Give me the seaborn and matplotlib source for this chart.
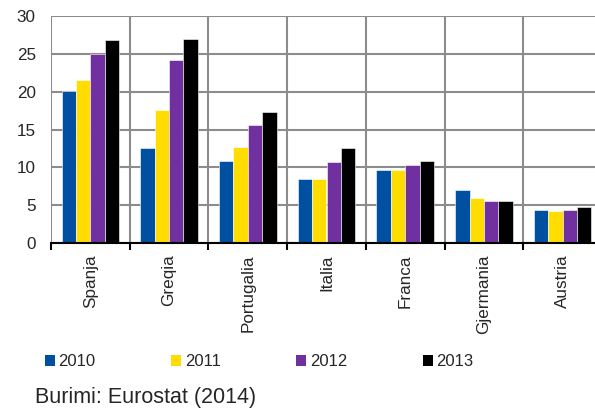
import matplotlib
matplotlib.use("Agg")
import matplotlib.pyplot as plt
import seaborn as sns
import pandas as pd
from matplotlib.patches import Patch
from matplotlib.ticker import FixedLocator

countries = ["Spanja", "Greqia", "Portugalia", "Italia", "Franca", "Gjermania", "Austria"]
years = ["2010", "2011", "2012", "2013"]
v2010 = [20.1, 12.5, 10.8, 8.4, 9.7, 7.0, 4.4]
v2011 = [21.6, 17.6, 12.7, 8.4, 9.6, 5.9, 4.2]
v2012 = [25.0, 24.2, 15.6, 10.7, 10.3, 5.5, 4.4]
v2013 = [26.8, 26.9, 17.3, 12.5, 10.9, 5.6, 4.8]
colors = ["#0050A2", "#FFDD00", "#7030A0", "#000000"]
source = "Burimi: Eurostat (2014)"

rows = []
for y, vals in zip(years, [v2010, v2011, v2012, v2013]):
    for c, v in zip(countries, vals):
        rows.append({"country": c, "year": y, "value": v})
df = pd.DataFrame(rows)

sns.set_theme(style="white")
plt.rcParams["font.family"] = ["Liberation Sans", "DejaVu Sans"]

fig = plt.figure(figsize=(5.95, 4.08), dpi=100)
ax = fig.add_axes([51/595, 1-243/408, (602-51)/595, (243-16)/408])
sns.barplot(data=df, x="country", y="value", hue="year", palette=colors,
            saturation=1, width=0.73, ax=ax, edgecolor="white", linewidth=0.4,
            legend=False, zorder=3)
ax.set_xlim(-0.5, len(countries)-0.5)
ax.set_ylim(0, 30)
ax.set_yticks([0, 5, 10, 15, 20, 25, 30])
ax.set_xlabel("")
ax.set_ylabel("")
ax.tick_params(axis="y", labelsize=12.3, length=0, pad=11)
ax.tick_params(axis="x", which="major", labelsize=12.3, length=0, labelrotation=90, pad=8)
ax.xaxis.set_minor_locator(FixedLocator([i - 0.5 for i in range(len(countries)+1)]))
ax.tick_params(axis="x", which="minor", length=5, width=1.5, color="black", direction="out", bottom=True)
ax.grid(True, axis="y", color="#8c8c8c", linewidth=1.5, zorder=0)
ax.grid(True, axis="x", which="minor", color="#8c8c8c", linewidth=1.5, zorder=0)
ax.grid(False, axis="x", which="major")
for s in ["top", "right", "left"]:
    ax.spines[s].set_visible(False)
ax.spines["bottom"].set_color("black")
ax.spines["bottom"].set_linewidth(1.5)
ax.spines["bottom"].set_zorder(4)
for lab in ax.get_xticklabels():
    lab.set_va("top")

handles = [Patch(facecolor=c, edgecolor="none", label=y) for c, y in zip(colors, years)]
fig.legend(handles=handles, loc="center left", bbox_to_anchor=(45/595, 1-362/408),
           ncol=4, frameon=False, fontsize=12, handlelength=0.6, handleheight=0.6,
           handletextpad=0.2, columnspacing=4.55, borderpad=0, borderaxespad=0)
fig.text(35/595, 1-397/408, source, fontsize=15.5, va="center", ha="left")

fig.savefig("out.png", dpi=100)
